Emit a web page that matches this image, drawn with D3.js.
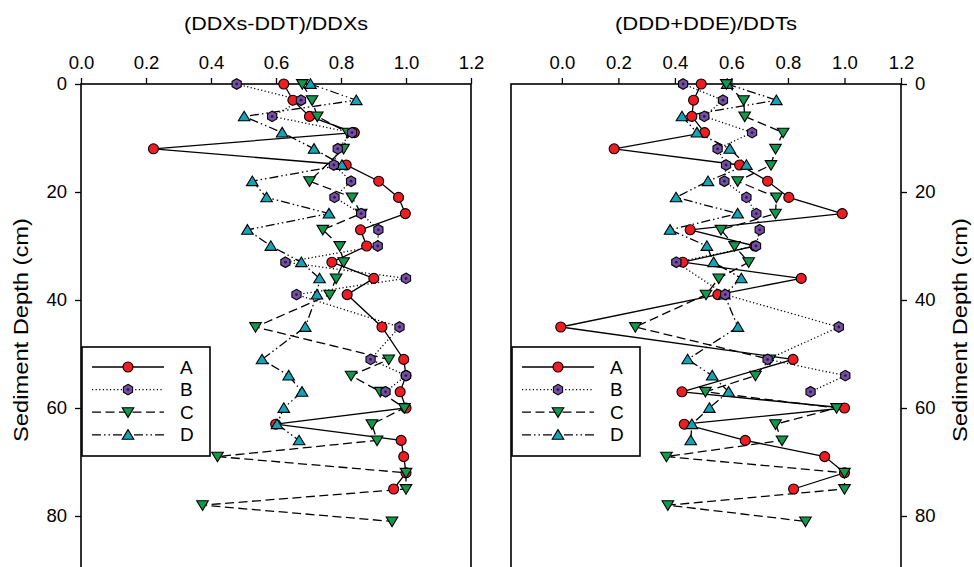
<!DOCTYPE html>
<html lang="en">
<head>
  <meta charset="UTF-8" />
  <title>Sediment depth ratios</title>
  <script src="https://d3js.org/d3.v7.min.js"></script>
  <style>
    body { margin: 0; background: #fff; }
    svg { display: block; font-family: 'Liberation Sans', Arial, sans-serif; }
  </style>
</head>
<body>
  <div id="chart"></div>

  <script>
    // sampled depths (cm); null = no sample for that series
    const depths = [0, 3, 6, 9, 12, 15, 18, 21, 24, 27, 30, 33, 36, 39, 45, 51, 54, 57, 60, 63, 66, 69, 72, 75, 78, 81];

    // (DDXs-DDT)/DDXs
    const ddxA = [0.624, 0.652, 0.703, 0.841, 0.223, 0.816, 0.916, 0.977, 0.998, 0.860, 0.879, 0.772, 0.901, 0.819, 0.926, 0.993, 1.000, 0.982, 1.000, 0.599, 0.985, 0.993, 1.000, 0.962, null, null];
    const ddxB = [0.479, 0.677, 0.588, 0.834, 0.790, 0.778, 0.831, 0.780, 0.862, 0.915, 0.913, 0.629, 1.000, 0.663, 0.980, 0.891, 1.000, 0.937, null, null, null, null, null, null, null, null];
    const ddxC = [0.681, 0.711, 0.727, 0.821, 0.808, null, 0.703, 0.834, 0.862, 0.744, 0.796, 0.808, 0.785, 0.765, 0.537, 0.947, 0.831, 0.921, 0.995, 0.895, 0.911, 0.420, 1.000, 1.000, 0.374, 0.957];
    const ddxD = [0.706, 0.847, 0.502, 0.619, 0.717, 0.803, 0.527, 0.571, 0.763, 0.512, 0.584, 0.678, 0.734, 0.726, 0.690, 0.557, 0.639, 0.680, 0.624, 0.603, 0.671, null, null, null, null, null];

    // (DDD+DDE)/DDTs
    const ddtA = [0.493, 0.466, 0.460, 0.505, 0.185, 0.629, 0.728, 0.803, 0.992, 0.454, 0.683, 0.428, 0.847, 0.552, -0.004, 0.818, null, 0.425, 1.000, 0.433, 0.649, 0.930, 1.000, 0.820, null, null];
    const ddtB = [0.429, 0.570, 0.504, 0.673, 0.551, 0.581, 0.575, 0.653, 0.688, 0.700, 0.687, 0.405, null, 0.578, 0.980, 0.728, 1.003, 0.880, null, null, null, null, null, null, null, null];
    const ddtC = [0.582, 0.643, 0.647, 0.783, 0.756, 0.740, 0.622, 0.759, 0.756, 0.563, 0.611, 0.661, 0.555, 0.510, 0.260, 0.736, 0.685, 0.508, 0.972, 0.756, 0.779, 0.370, 1.000, 1.000, 0.375, 0.862];
    const ddtD = [0.585, 0.759, 0.425, 0.478, 0.594, 0.653, 0.517, 0.404, 0.622, 0.383, 0.513, 0.537, 0.635, 0.575, 0.623, 0.445, 0.532, 0.590, 0.522, 0.460, 0.456, null, null, null, null, null];

    const seriesNames = ["A", "B", "C", "D"];
    const xTicks = [0, 0.2, 0.4, 0.6, 0.8, 1.0, 1.2];
    const depthTicks = [0, 20, 40, 60, 80];

    const width = 974, height = 567;
    const font = "'Liberation Sans', Arial, sans-serif";

    const styles = {
      A: { fill: "#ee1d24", dash: null, shape: "circle" },
      B: { fill: "#7350a2", dash: "1.2,2.4", shape: "hex" },
      C: { fill: "#12994c", dash: "9,4.5", shape: "down" },
      D: { fill: "#15a3b5", dash: "9,3,1.5,3,1.5,3", shape: "up" }
    };
    // drawing order so overlapping markers stack like the original
    const drawOrder = ["A", "D", "C", "B"];

    const panels = [
      { title: "(DDXs-DDT)/DDXs", titleLen: 184, domain: [0, 1.2], range: [81, 471], side: "left",
        values: { A: ddxA, B: ddxB, C: ddxC, D: ddxD } },
      { title: "(DDD+DDE)/DDTs", titleLen: 182, domain: [-0.18, 1.2], range: [511, 901], side: "right",
        values: { A: ddtA, B: ddtB, C: ddtC, D: ddtD } }
    ];

    const y = d3.scaleLinear().domain([0, 80]).range([84, 516]);

    const svg = d3.select("#chart").append("svg")
      .attr("width", width)
      .attr("height", height);

    function marker(g, shape, fill) {
      if (shape === "circle") {
        g.append("circle").attr("r", 5);
      } else if (shape === "hex") {
        const pts = d3.range(6).map(i => {
          const a = Math.PI / 3 * i - Math.PI / 2;
          return [5.3 * Math.cos(a), 5.3 * Math.sin(a)];
        });
        g.append("path").attr("d", "M" + pts.join("L") + "Z");
      } else if (shape === "down") {
        g.append("path").attr("d", "M0,5.2L5.8,-4.4L-5.8,-4.4Z");
      } else {
        g.append("path").attr("d", "M0,-5.2L5.8,4.4L-5.8,4.4Z");
      }
      g.selectAll("circle,path")
        .attr("fill", fill)
        .attr("stroke", "#000")
        .attr("stroke-width", 1.1);
      if (shape === "hex") {
        g.append("circle").attr("r", 1.4).attr("fill", "#2b1a45");
      }
    }

    panels.forEach(p => {
      const x = d3.scaleLinear().domain(p.domain).range(p.range);
      const g = svg.append("g");
      const [x0, x1] = p.range;

      // title
      g.append("text")
        .attr("x", (x0 + x1) / 2)
        .attr("y", 30)
        .attr("text-anchor", "middle")
        .attr("font-size", 18.5)
        .attr("textLength", p.titleLen)
        .attr("lengthAdjust", "spacingAndGlyphs")
        .text(p.title);

      // top axis
      const top = g.append("g")
        .attr("transform", `translate(0,${y(0)})`)
        .call(d3.axisTop(x).tickValues(xTicks).tickFormat(d3.format(".1f"))
          .tickSize(6).tickPadding(9));
      top.select(".domain").remove();

      // depth axis
      const axis = p.side === "left" ? d3.axisLeft(y) : d3.axisRight(y);
      const side = g.append("g")
        .attr("transform", `translate(${p.side === "left" ? x0 : x1},0)`)
        .call(axis.tickValues(depthTicks).tickSize(6).tickPadding(8));
      side.select(".domain").remove();

      g.selectAll(".tick text")
        .attr("font-family", font)
        .attr("font-size", 18.5)
        .attr("fill", "#000");
      g.selectAll(".tick line").attr("stroke", "#000").attr("stroke-width", 1.3);

      // frame
      g.append("rect")
        .attr("x", x0)
        .attr("y", y(0))
        .attr("width", x1 - x0)
        .attr("height", 600)
        .attr("fill", "none")
        .attr("stroke", "#000")
        .attr("stroke-width", 1.6);

      // y label
      const lx = p.side === "left" ? 27.5 : 967;
      g.append("text")
        .attr("transform", `translate(${lx},330) rotate(-90)`)
        .attr("text-anchor", "middle")
        .attr("font-size", 21)
        .attr("textLength", 224)
        .attr("lengthAdjust", "spacingAndGlyphs")
        .text("Sediment Depth (cm)");

      const line = d3.line().x(d => x(d.v)).y(d => y(d.depth));

      drawOrder.forEach(name => {
        const pts = depths.map((depth, i) => ({ depth, v: p.values[name][i] }))
          .filter(d => d.v != null);
        const st = styles[name];

        g.append("path")
          .datum(pts)
          .attr("d", line)
          .attr("fill", "none")
          .attr("stroke", "#000")
          .attr("stroke-width", 1.3)
          .attr("stroke-dasharray", st.dash);
      });

      drawOrder.forEach(name => {
        const pts = depths.map((depth, i) => ({ depth, v: p.values[name][i] }))
          .filter(d => d.v != null);
        const st = styles[name];
        g.append("g")
          .selectAll("g")
          .data(pts)
          .join("g")
          .attr("transform", d => `translate(${x(d.v)},${y(d.depth)})`)
          .each(function () { marker(d3.select(this), st.shape, st.fill); });
      });

      // legend
      const lg = g.append("g").attr("transform", `translate(${x0 + 1},347)`);
      lg.append("rect")
        .attr("width", 128)
        .attr("height", 109)
        .attr("fill", "#fff")
        .attr("stroke", "#000")
        .attr("stroke-width", 1.6);

      seriesNames.forEach((name, i) => {
        const st = styles[name];
        const row = lg.append("g").attr("transform", `translate(0,${20 + i * 22.6})`);
        row.append("line")
          .attr("x1", 10).attr("x2", 82)
          .attr("stroke", "#000")
          .attr("stroke-width", 1.3)
          .attr("stroke-dasharray", st.dash);
        const m = row.append("g").attr("transform", "translate(46,0)");
        marker(m, st.shape, st.fill);
        row.append("text")
          .attr("x", 98)
          .attr("dy", "0.35em")
          .attr("font-size", 19)
          .text(name);
      });
    });
  </script>
</body>
</html>
